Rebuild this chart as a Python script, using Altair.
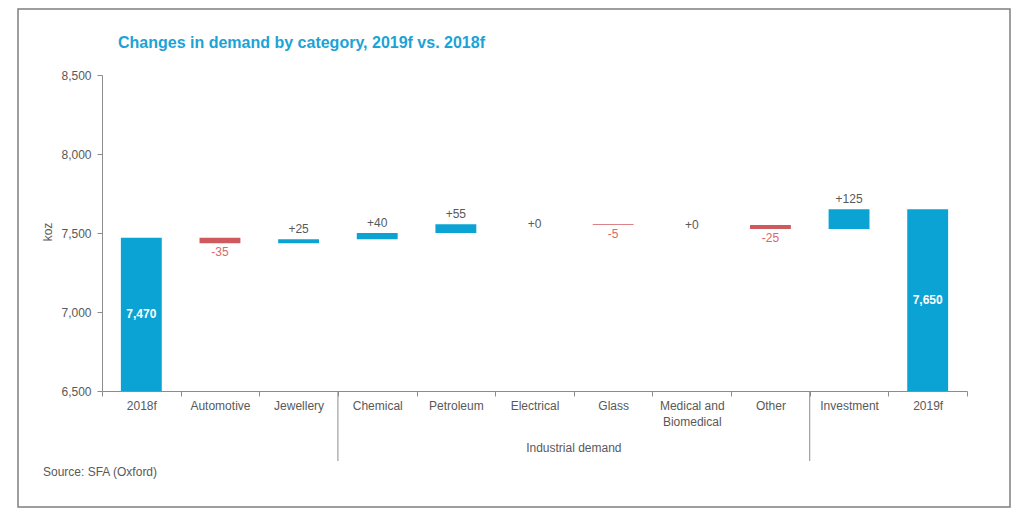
import altair as alt
import pandas as pd

# ---- data ----
categories = ["2018f", "Automotive", "Jewellery", "Chemical", "Petroleum",
              "Electrical", "Glass", "Medical and Biomedical", "Other",
              "Investment", "2019f"]
values = [7470, -35, 25, 40, 55, 0, -5, 0, -25, 125, 7650]
kinds = ["total"] + ["delta"] * 9 + ["total"]
group_breaks = ["Chemical", "Investment"]      # separators before these categories
group_label_at = ["Glass"]                      # centre of the "Industrial demand" span
y_ticks = [6500, 7000, 7500, 8000, 8500]

BLUE = "#0ba3d3"
RED = "#cf5a5e"
RED_TXT = "#dc6868"
GREY = "#595959"
AXIS = "#8c8c8c"
FONT = "Liberation Sans"

rows = []
level = 0
for c, v, k in zip(categories, values, kinds):
    if k == "total":
        start, end = 0, v
        level = v
        label = f"{v:,}"
        mid = (v + y_ticks[0]) / 2
    else:
        start, end = level, level + v
        level = end
        label = f"{v:+d}"
        mid = (start + end) / 2
    rows.append(dict(cat=c, kind=k, val=v, start=start, end=end,
                     top=max(start, end), bot=min(start, end), mid=mid,
                     label=label, color=(RED if v < 0 else BLUE)))
df = pd.DataFrame(rows)

xscale = alt.Scale(paddingInner=0, paddingOuter=0)
x_axis = alt.Axis(title=None, labelAngle=0, tickBand="extent", tickSize=5,
                  tickColor=AXIS, domainColor=AXIS, labelColor=GREY,
                  labelFont=FONT, labelFontSize=12, labelPadding=4,
                  labelLineHeight=16,
                  labelExpr="datum.label == 'Medical and Biomedical' ? ['Medical and', 'Biomedical'] : datum.label")
y_axis = alt.Axis(title=None, values=y_ticks, format=",.0f", grid=False, tickSize=5,
                  tickColor=AXIS, domainColor=AXIS, labelColor=GREY,
                  labelFont=FONT, labelFontSize=12, labelPadding=6)

X = alt.X("cat:N", sort=categories, scale=xscale, axis=x_axis)
yscale = alt.Scale(domain=[y_ticks[0], y_ticks[-1]], clamp=True)


def Yq(field):
    return alt.Y(field, scale=yscale, axis=y_axis)


base = alt.Chart(df)

bars = base.mark_bar(width=alt.RelativeBandSize(0.52)).encode(
    x=X,
    y=Yq("start:Q"),
    y2="end:Q",
    color=alt.Color("color:N", scale=None),
)

pos_lbl = base.transform_filter("datum.kind == 'delta' && datum.val > 0").mark_text(
    baseline="bottom", dy=-3, font=FONT, fontSize=12, color=GREY
).encode(x=X, y=Yq("top:Q"), text="label:N")

neg_lbl = base.transform_filter("datum.kind == 'delta' && datum.val < 0").mark_text(
    baseline="top", dy=4, font=FONT, fontSize=12, color=RED_TXT
).encode(x=X, y=Yq("bot:Q"), text="label:N")

zero_lbl = base.transform_filter("datum.kind == 'delta' && datum.val == 0").mark_text(
    baseline="middle", font=FONT, fontSize=12, color=GREY
).encode(x=X, y=Yq("top:Q"), text="label:N")

tot_lbl = base.transform_filter("datum.kind == 'total'").mark_text(
    baseline="middle", font=FONT, fontSize=12, fontWeight="bold", color="white"
).encode(x=X, y=Yq("mid:Q"), text="label:N")

seps = alt.Chart(pd.DataFrame({"cat": group_breaks})).mark_rule(
    color=AXIS, strokeWidth=1
).encode(x=alt.X("cat:N", sort=categories, bandPosition=0),
         y=alt.value(316), y2=alt.value(386))

grp = alt.Chart(pd.DataFrame({"cat": group_label_at})).mark_text(
    font=FONT, fontSize=12, color=GREY, baseline="middle"
).encode(x=alt.X("cat:N", sort=categories, bandPosition=0),
         y=alt.value(373), text=alt.value("Industrial demand"))

one = pd.DataFrame({"a": [0]})
title = alt.Chart(one).mark_text(
    align="left", baseline="middle", font=FONT, fontSize=16, fontWeight="bold",
    color="#1ba3d6"
).encode(x=alt.value(16), y=alt.value(-32),
         text=alt.value("Changes in demand by category, 2019f vs. 2018f"))

koz = alt.Chart(one).mark_text(
    angle=270, baseline="middle", font=FONT, fontSize=12, color=GREY
).encode(x=alt.value(-54), y=alt.value(157), text=alt.value("koz"))

source = alt.Chart(one).mark_text(
    align="left", baseline="middle", font=FONT, fontSize=12, color=GREY
).encode(x=alt.value(-59), y=alt.value(397), text=alt.value("Source: SFA (Oxford)"))

frame = alt.Chart(one).mark_rect(
    fill="transparent", stroke="#7f7f7f", strokeWidth=1.5
).encode(x=alt.value(-84), x2=alt.value(908), y=alt.value(-66), y2=alt.value(432))

chart = alt.layer(
    frame, bars, pos_lbl, neg_lbl, zero_lbl, tot_lbl, seps, grp, title, koz, source
).properties(
    width=865, height=316,
    autosize=alt.AutoSizeParams(type="none"),
    padding={"left": 94, "top": 67, "right": 49, "bottom": 120},
).configure_view(stroke=None)

chart.save("out.html", embed_options={"renderer": "svg", "actions": False})
